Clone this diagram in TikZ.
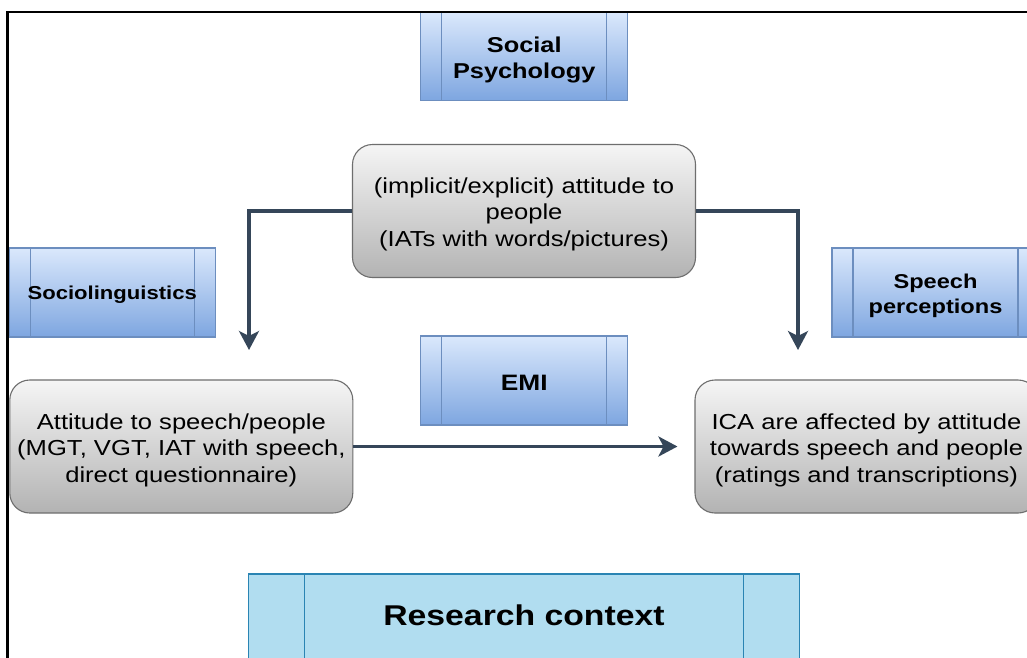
\documentclass[tikz,border=0pt]{standalone}
\usepackage{fontspec}
\setmainfont{Liberation Sans}[FakeStretch=1.18]
\usetikzlibrary{arrows.meta}

\definecolor{procTop}{HTML}{DAE8FC}
\definecolor{procBottom}{HTML}{7EA6E0}
\definecolor{procLine}{HTML}{6C8EBF}
\definecolor{ctxFill}{HTML}{B1DDF0}
\definecolor{ctxLine}{HTML}{2A84B3}
\definecolor{greyTop}{HTML}{F5F5F5}
\definecolor{greyBottom}{HTML}{B3B3B3}
\definecolor{greyLine}{HTML}{6E6E6E}
\definecolor{connCol}{HTML}{354659}

\tikzset{
  % a strut on a single line lowers the text slightly
  lowtext/.style={execute at begin node={\rule{0pt}{#1}}},
  lowtext/.default=1em,
  % process shape: rectangle with two inner vertical bars
  procbox/.style={
    draw=procLine, line width=1.1pt, top color=procTop, bottom color=procBottom,
    inner sep=0pt, align=center, text=black,
    path picture={
      \draw[procLine, line width=1.1pt]
        ([xshift=#1]path picture bounding box.north west) --
        ([xshift=#1]path picture bounding box.south west)
        ([xshift=-#1]path picture bounding box.north east) --
        ([xshift=-#1]path picture bounding box.south east);
    }},
  procbox/.default=21pt,
  ctxbox/.style={
    draw=ctxLine, line width=1.1pt, fill=ctxFill,
    inner sep=0pt, align=center, text=black,
    path picture={
      \draw[ctxLine, line width=1.1pt]
        ([xshift=56pt]path picture bounding box.north west) --
        ([xshift=56pt]path picture bounding box.south west)
        ([xshift=-56pt]path picture bounding box.north east) --
        ([xshift=-56pt]path picture bounding box.south east);
    }},
  greybox/.style={
    draw=greyLine, line width=1.1pt, rounded corners=20pt,
    top color=greyTop, bottom color=greyBottom,
    minimum width=343pt, minimum height=133pt,
    inner sep=0pt, align=center, text=black, text height=75.5pt,
    font=\fontsize{21.7}{26.5}\selectfont},
  conn/.style={draw=connCol, line width=3.2pt,
    -{Stealth[length=19pt, width=20pt, inset=5pt]}},
  labelfont/.style={font=\bfseries\fontsize{21.5}{26}\selectfont}
}

\begin{document}
\begin{tikzpicture}[x=1pt, y=-1pt]
  \useasboundingbox (0,0) rectangle (1027,657);
  \fill[white] (0,0) rectangle (1027,657);
  \clip (0,0) rectangle (1027,657);

  % discipline labels
  \node[procbox, labelfont, minimum width=207pt, minimum height=87.3pt,
        text height=48pt]
    (social) at (524.2,56.4) {Social\\Psychology};
  \node[procbox, font=\bfseries\fontsize{18.7}{22}\selectfont,
        minimum width=205.7pt, minimum height=89pt, lowtext]
    (socio) at (112.2,292.5) {Sociolinguistics};
  \node[procbox, font=\bfseries\fontsize{20}{25}\selectfont,
        minimum width=207pt, minimum height=89pt, text height=47pt]
    (speech) at (935.5,292.5) {Speech\\perceptions};
  \node[procbox, font=\bfseries\fontsize{22.3}{26}\selectfont,
        minimum width=207pt, minimum height=89pt, lowtext=0.9em]
    (emi) at (524.2,380.5) {EMI};

  % research context banner
  \node[ctxbox, font=\bfseries\fontsize{28.6}{34}\selectfont,
        minimum width=551pt, minimum height=88pt, text depth=6pt]
    (context) at (524,618) {Research context};

  % attitude boxes
  \node[greybox, text height=75pt] (people) at (524,211)
    {(implicit/explicit) attitude to\\people\\(IATs with words/pictures)};
  \node[greybox] (attspeech) at (181.3,446.5)
    {Attitude to speech/people\\(MGT, VGT, IAT with speech,\\direct questionnaire)};
  \node[greybox] (ica) at (866.5,446.5)
    {ICA are affected by attitude\\towards speech and people\\(ratings and transcriptions)};

  % connectors
  \coordinate (leftEnd) at (249,350);
  \coordinate (rightEnd) at (798,350);
  \draw[conn] (people.west) -| (leftEnd);
  \draw[conn] (people.east) -| (rightEnd);
  \draw[conn, shorten >=17pt] (attspeech.east) -- (ica.west);

  % outer frame (top and left edges)
  \draw[black, line width=2.5pt] (1030,12) -- (7.5,12) -- (7.5,660);
\end{tikzpicture}
\end{document}
